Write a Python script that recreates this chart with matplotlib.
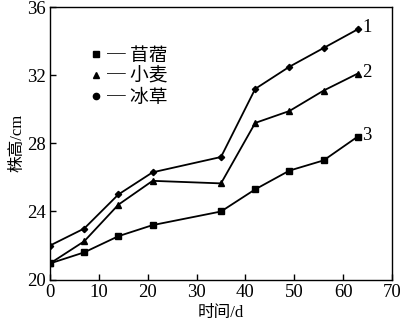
import matplotlib
matplotlib.use("Agg")
import matplotlib.pyplot as plt
from matplotlib.lines import Line2D

plt.rcParams['font.family'] = ['Liberation Serif', 'Noto Sans CJK SC']

days = [0, 7, 14, 21, 35, 42, 49, 56, 63]
bingcao = [22.0, 23.0, 25.0, 26.3, 27.2, 31.2, 32.5, 33.6, 34.7]
xiaomai = [20.95, 22.25, 24.4, 25.8, 25.65, 29.2, 29.9, 31.1, 32.1]
muxu = [20.95, 21.6, 22.55, 23.2, 24.0, 25.3, 26.4, 27.0, 28.4]
series_names = ['苜蓿', '小麦', '冰草']
end_labels = ['1', '2', '3']
x_ticks = [0, 10, 20, 30, 40, 50, 60, 70]
y_ticks = [20, 24, 28, 32, 36]

fig = plt.figure(figsize=(4.0, 3.24), dpi=100)
ax = fig.add_axes([0.125, 0.137, 0.855, 0.841])

lw = 1.3
ax.plot(days, bingcao, color='black', lw=lw, marker='D', ms=3.2)
ax.plot(days, xiaomai, color='black', lw=lw, marker='^', ms=4.5)
ax.plot(days, muxu, color='black', lw=lw, marker='s', ms=5)

for lab, ys in zip(end_labels, [bingcao, xiaomai, muxu]):
    ax.annotate(lab, xy=(days[-1], ys[-1]), xytext=(3, 1),
                textcoords='offset points', ha='left', va='center', fontsize=13.5)

ax.set_xlim(0, 70)
ax.set_ylim(20, 36)
ax.set_xticks(x_ticks)
ax.set_yticks(y_ticks)
ax.tick_params(direction='in', length=4, width=1, labelsize=13.5, top=False, right=False)
ax.tick_params(axis='x', pad=3)
ax.tick_params(axis='y', pad=3)
for sp in ax.spines.values():
    sp.set_linewidth(1)

ax.set_xlabel('时间/d', fontsize=12, labelpad=3)
ax.set_ylabel('株高/cm', fontsize=12, labelpad=1)

handles = [
    Line2D([], [], color='black', ls='none', marker='s', ms=5),
    Line2D([], [], color='black', ls='none', marker='^', ms=4.5),
    Line2D([], [], color='black', ls='none', marker='o', ms=4.5),
]
ax.legend(handles, ['─ ' + n for n in series_names], loc='upper left',
          bbox_to_anchor=(0.095, 0.89), frameon=False,
          prop={'family': ['Noto Sans CJK SC', 'DejaVu Sans'], 'size': 13.5},
          handlelength=0.6, handletextpad=0.3, labelspacing=0.0,
          borderaxespad=0)

fig.savefig('out.png', dpi=100)
